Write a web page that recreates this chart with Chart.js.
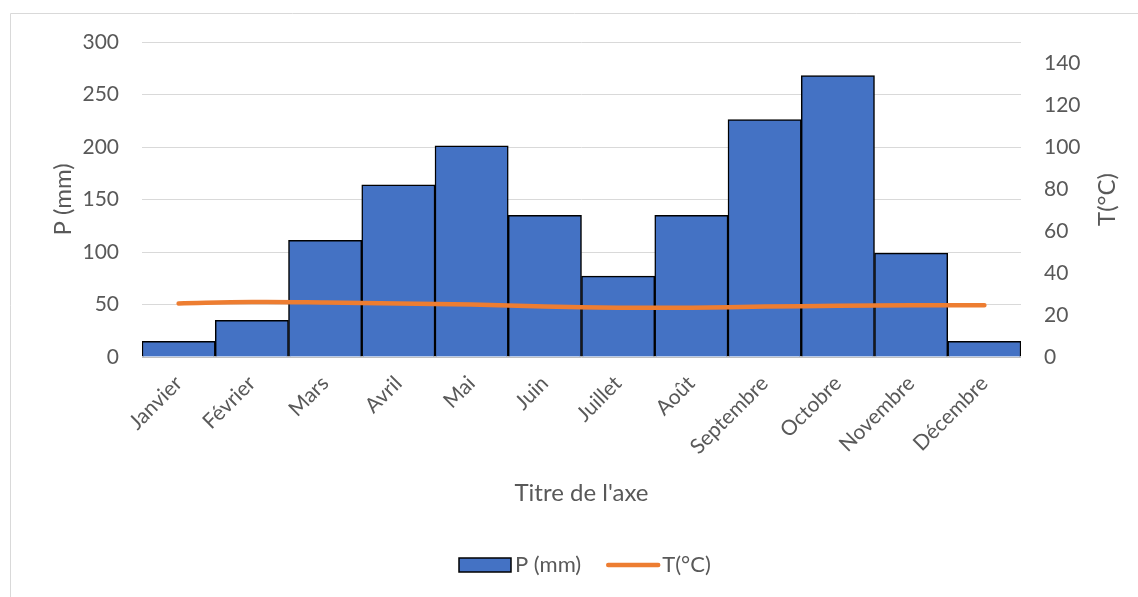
<!DOCTYPE html>
<html lang="fr">
<head>
<meta charset="utf-8">
<title>P (mm) / T(°C)</title>
<script src="https://cdn.jsdelivr.net/npm/chart.js@4.4.1/dist/chart.umd.min.js"></script>
<style>
  html, body { margin: 0; padding: 0; background: #fff; }
  #wrap { position: relative; width: 1138px; height: 597px; }
</style>
</head>
<body>
<div id="wrap"><canvas id="chart" width="1138" height="597"></canvas></div>
<script>
// Monthly data
const MONTHS = ['Janvier', 'Février', 'Mars', 'Avril', 'Mai', 'Juin',
  'Juillet', 'Août', 'Septembre', 'Octobre', 'Novembre', 'Décembre'];
const PRECIP = [15, 35, 111, 164, 201, 135, 77, 135, 226, 268, 99, 15];
const TEMP = [25.5, 26.2, 26, 25.5, 25, 24, 23.5, 23.5, 24, 24.4, 24.6, 24.6];

// Axis ticks
const P_TICKS = [0, 50, 100, 150, 200, 250, 300];
const T_TICKS = [0, 20, 40, 60, 80, 100, 120, 140];

const TEXT = '#595959';
const FONT = 'Lato, "Open Sans", sans-serif';

// light frame along the top and left edges
const framePlugin = {
  id: 'frame',
  afterDraw(chart) {
    const ctx = chart.ctx;
    ctx.save();
    ctx.strokeStyle = '#d9d9d9';
    ctx.lineWidth = 1;
    ctx.beginPath();
    ctx.moveTo(1138, 13.5);
    ctx.lineTo(10.5, 13.5);
    ctx.lineTo(10.5, 597);
    ctx.stroke();
    ctx.restore();
  }
};

// right axis title, reading bottom to top like the left one
const rightTitlePlugin = {
  id: 'rightTitle',
  afterDraw(chart) {
    const ctx = chart.ctx;
    const area = chart.chartArea;
    ctx.save();
    ctx.translate(1107, (area.top + area.bottom) / 2);
    ctx.rotate(-Math.PI / 2);
    ctx.font = '24px ' + FONT;
    ctx.fillStyle = TEXT;
    ctx.textAlign = 'center';
    ctx.textBaseline = 'middle';
    ctx.fillText('T(°C)', 0, 0);
    ctx.restore();
  }
};

// legend row under the axis title
const legendPlugin = {
  id: 'legendRow',
  afterDraw(chart) {
    const ctx = chart.ctx;
    const y = 565;
    ctx.save();
    ctx.font = '22px ' + FONT;
    ctx.textBaseline = 'middle';
    ctx.textAlign = 'left';
    let x = 459;
    chart.data.datasets.forEach(ds => {
      if (ds.type === 'line') {
        ctx.strokeStyle = ds.borderColor;
        ctx.lineWidth = 4.5;
        ctx.lineCap = 'round';
        ctx.beginPath();
        ctx.moveTo(x + 2, y);
        ctx.lineTo(x + 52, y);
        ctx.stroke();
      } else {
        ctx.fillStyle = ds.backgroundColor;
        ctx.fillRect(x, y - 7, 52, 14);
        ctx.strokeStyle = '#000000';
        ctx.lineWidth = 1.5;
        ctx.strokeRect(x, y - 7, 52, 14);
      }
      ctx.fillStyle = TEXT;
      ctx.fillText(ds.label, x + 56, y);
      x += 56 + ctx.measureText(ds.label).width + 25;
    });
    ctx.restore();
  }
};

Chart.defaults.font.family = FONT;
Chart.defaults.color = TEXT;

new Chart(document.getElementById('chart').getContext('2d'), {
  type: 'bar',
  data: {
    labels: MONTHS,
    datasets: [
      {
        type: 'bar',
        label: 'P (mm)',
        data: PRECIP,
        yAxisID: 'y',
        backgroundColor: '#4472C4',
        borderColor: '#000000',
        borderWidth: 1.5,
        barPercentage: 1,
        categoryPercentage: 1,
        order: 1
      },
      {
        type: 'line',
        label: 'T(°C)',
        data: TEMP,
        yAxisID: 'y1',
        borderColor: '#ED7D31',
        backgroundColor: '#ED7D31',
        borderWidth: 4.5,
        borderCapStyle: 'round',
        tension: 0.4,
        pointRadius: 0,
        fill: false,
        order: 0
      }
    ]
  },
  options: {
    responsive: false,
    animation: false,
    layout: { padding: { left: 0, right: 0, top: 42, bottom: 55 } },
    plugins: {
      tooltip: { enabled: false },
      legend: { display: false }
    },
    scales: {
      x: {
        grid: { display: false },
        border: { display: false },
        ticks: {
          autoSkip: false,
          maxRotation: 45,
          minRotation: 45,
          padding: 6,
          font: { size: 21 }
        },
        title: {
          display: true,
          text: "Titre de l'axe",
          font: { size: 24 },
          padding: { top: 0, bottom: 34 }
        },
        afterFit(scale) { scale.height = 185; }
      },
      y: {
        position: 'left',
        min: 0,
        max: 300,
        afterBuildTicks(scale) { scale.ticks = P_TICKS.map(v => ({ value: v })); },
        grid: {
          drawTicks: false,
          color: ctx => (ctx.tick && ctx.tick.value === 0 ? '#bfbfbf' : '#d9d9d9'),
          lineWidth: 1
        },
        border: { display: false },
        ticks: { padding: 23, font: { size: 21 } },
        title: {
          display: true,
          text: 'P (mm)',
          font: { size: 24 },
          padding: { top: 49, bottom: 0 }
        },
        afterFit(scale) { scale.width = 142; }
      },
      y1: {
        position: 'right',
        min: 0,
        max: 150,
        afterBuildTicks(scale) { scale.ticks = T_TICKS.map(v => ({ value: v })); },
        grid: { display: false, drawTicks: false },
        border: { display: false },
        ticks: { padding: 23, font: { size: 21 } },
        afterFit(scale) { scale.width = 117; }
      }
    }
  },
  plugins: [framePlugin, rightTitlePlugin, legendPlugin]
});
</script>
</body>
</html>
